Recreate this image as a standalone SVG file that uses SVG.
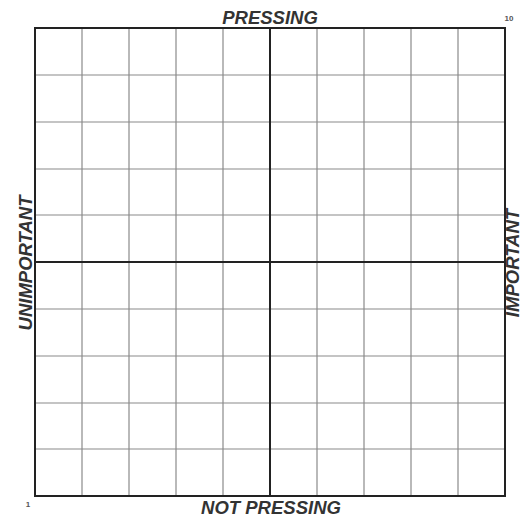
<svg xmlns="http://www.w3.org/2000/svg" width="522" height="518" viewBox="0 0 522 518">
<style>
.grid line{stroke:#8a8a8a;stroke-width:1.2}
.axis{stroke:#222;stroke-width:2}
.lbl{font-family:"Liberation Sans",Arial,sans-serif;font-weight:bold;font-style:italic;font-size:18.5px;fill:#333}
.num{font-family:"Liberation Sans",Arial,sans-serif;font-weight:bold;font-size:8px;fill:#555}
</style>
<rect width="522" height="518" fill="#fff"/>
<g id="grid" class="grid">
<line x1="82" y1="28" x2="82" y2="496"/>
<line x1="129" y1="28" x2="129" y2="496"/>
<line x1="176" y1="28" x2="176" y2="496"/>
<line x1="223" y1="28" x2="223" y2="496"/>
<line x1="317" y1="28" x2="317" y2="496"/>
<line x1="364" y1="28" x2="364" y2="496"/>
<line x1="411" y1="28" x2="411" y2="496"/>
<line x1="458" y1="28" x2="458" y2="496"/>
<line x1="35" y1="75" x2="505" y2="75"/>
<line x1="35" y1="122" x2="505" y2="122"/>
<line x1="35" y1="169" x2="505" y2="169"/>
<line x1="35" y1="215" x2="505" y2="215"/>
<line x1="35" y1="309" x2="505" y2="309"/>
<line x1="35" y1="356" x2="505" y2="356"/>
<line x1="35" y1="403" x2="505" y2="403"/>
<line x1="35" y1="449" x2="505" y2="449"/>
</g>
<g id="axes">
<rect class="axis" x="35" y="28" width="470" height="468" fill="none"/>
<line class="axis" x1="270" y1="28" x2="270" y2="496"/>
<line class="axis" x1="35" y1="262" x2="505" y2="262"/>
</g>
<g id="labels">
<text class="lbl" x="270" y="24" text-anchor="middle">PRESSING</text>
<text class="lbl" x="271" y="514" text-anchor="middle">NOT PRESSING</text>
<text class="lbl" transform="translate(32,263) rotate(-90)" text-anchor="middle">UNIMPORTANT</text>
<text class="lbl" transform="translate(519,263) rotate(-90)" text-anchor="middle">IMPORTANT</text>
<text class="num" x="509" y="21" text-anchor="middle">10</text>
<text class="num" x="28" y="507" text-anchor="middle">1</text>
</g>
</svg>
